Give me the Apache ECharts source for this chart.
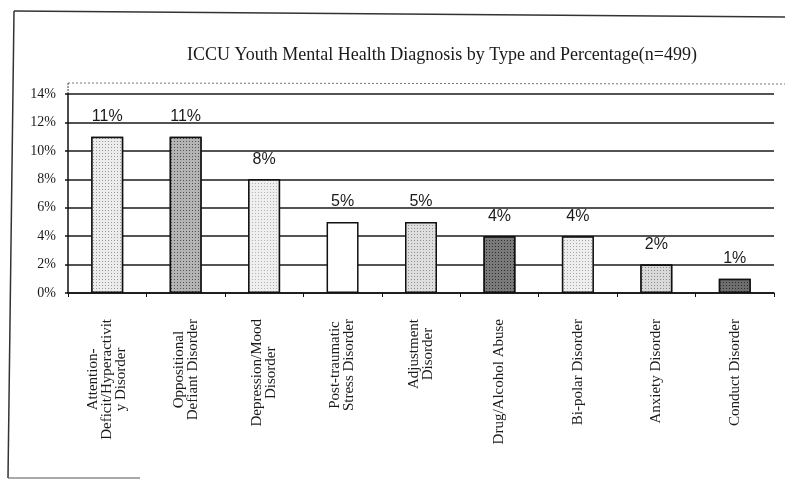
<!DOCTYPE html>
<html>
<head>
<meta charset="utf-8">
<script src="https://cdn.jsdelivr.net/npm/echarts@6/dist/echarts.min.js"></script>
<style>
  html, body { margin: 0; padding: 0; background: #fff; }
  #chart { width: 785px; height: 487px; }
</style>
</head>
<body>
<div id="chart"></div>
<script>
// Diagnosis categories (line breaks as printed under the axis)
const categories = [
  'Attention-\nDeficit/Hyperactivit\ny Disorder',
  'Oppositional\nDefiant Disorder',
  'Depression/Mood\nDisorder',
  'Post-traumatic\nStress Disorder',
  'Adjustment\nDisorder',
  'Drug/Alcohol Abuse',
  'Bi-polar Disorder',
  'Anxiety Disorder',
  'Conduct Disorder'
];

// Share of youth with each diagnosis, in percent
const percentages = [11, 11, 8, 5, 5, 4, 4, 2, 1];

// Value axis ticks (percent)
const yMin = 0;
const yMax = 14;
const yStep = 2;

// Fill tone and stipple for each bar
const barFills = [
  { base: '#ececec', dot: 'rgba(0,0,0,0.35)' },
  { base: '#b4b4b4', dot: 'rgba(0,0,0,0.55)' },
  { base: '#efefef', dot: 'rgba(0,0,0,0.25)' },
  { base: '#ffffff', dot: null },
  { base: '#dedede', dot: 'rgba(0,0,0,0.35)' },
  { base: '#7a7a7a', dot: 'rgba(0,0,0,0.6)' },
  { base: '#eeeeee', dot: 'rgba(0,0,0,0.3)' },
  { base: '#d9d9d9', dot: 'rgba(0,0,0,0.35)' },
  { base: '#6e6e6e', dot: 'rgba(0,0,0,0.6)' }
];

const serif = '"Liberation Serif", "DejaVu Serif", serif';
const sans = '"Liberation Sans", Arial, sans-serif';

const barData = percentages.map((v, i) => {
  const f = barFills[i];
  const style = { color: f.base, borderColor: '#111', borderWidth: 1.5 };
  if (f.dot) {
    style.decal = {
      symbol: 'rect',
      symbolSize: 1,
      color: f.dot,
      backgroundColor: f.base,
      dashArrayX: [1, 2],
      dashArrayY: [1, 2],
      rotation: 0
    };
  }
  return { value: v, itemStyle: style };
});

const chart = echarts.init(document.getElementById('chart'), null, { renderer: 'canvas' });

chart.setOption({
  backgroundColor: '#fff',
  animation: false,
  title: {
    text: 'ICCU Youth Mental Health Diagnosis by Type and Percentage(n=499)',
    left: 182,
    top: 41,
    textStyle: { fontFamily: serif, fontSize: 18, fontWeight: 'normal', color: '#1a1a1a' }
  },
  grid: { left: 68, right: 11, top: 94, bottom: 194, containLabel: false },
  xAxis: {
    type: 'category',
    data: categories,
    axisLine: { show: true, lineStyle: { color: '#111', width: 1.5 } },
    axisTick: { show: true, alignWithLabel: false, length: 4, lineStyle: { color: '#111', width: 1 } },
    axisLabel: {
      interval: 0,
      rotate: 90,
      margin: 26,
      color: '#1a1a1a',
      fontFamily: serif,
      fontSize: 15,
      lineHeight: 14,
      formatter: (s) => s.split('\n').map(line => '{c|' + line + '}').join('\n'),
      rich: {
        c: { align: 'center', fontFamily: serif, fontSize: 15, lineHeight: 14, color: '#1a1a1a' }
      }
    }
  },
  yAxis: {
    type: 'value',
    min: yMin,
    max: yMax,
    interval: yStep,
    axisLine: { show: true, lineStyle: { color: '#111', width: 1.5 } },
    axisTick: { show: true, length: 3, lineStyle: { color: '#111', width: 1.5 } },
    axisLabel: {
      margin: 12,
      color: '#1a1a1a',
      fontFamily: serif,
      fontSize: 14,
      formatter: (v) => v + '%'
    },
    splitLine: { show: true, lineStyle: { color: '#1a1a1a', width: 1.5 } }
  },
  series: [{
    type: 'bar',
    data: barData,
    barWidth: 32,
    label: {
      show: true,
      position: 'top',
      distance: 12,
      fontFamily: sans,
      fontSize: 16,
      color: '#1a1a1a',
      formatter: (p) => p.value + '%'
    }
  }],
  graphic: [
    // outer frame
    { type: 'line', shape: { x1: 14, y1: 11, x2: 785, y2: 17 }, style: { stroke: '#333', lineWidth: 1.5 } },
    { type: 'line', shape: { x1: 14, y1: 11, x2: 8, y2: 478 }, style: { stroke: '#333', lineWidth: 1.5 } },
    { type: 'line', shape: { x1: 8, y1: 478, x2: 140, y2: 478 }, style: { stroke: '#555', lineWidth: 1.2 } },
    // dotted top edge of the plot area and axis extension
    { type: 'line', shape: { x1: 68, y1: 83, x2: 785, y2: 84 }, style: { stroke: '#777', lineWidth: 1, lineDash: [2, 2] } },
    { type: 'line', shape: { x1: 68, y1: 83, x2: 68, y2: 94 }, style: { stroke: '#444', lineWidth: 1, lineDash: [2, 1] } }
  ]
});
</script>
</body>
</html>
